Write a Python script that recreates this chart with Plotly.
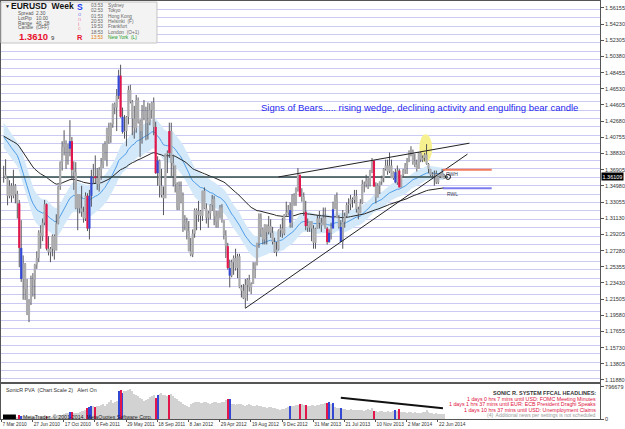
import plotly.graph_objects as go
import pandas as pd

START = "2010-03-07"

# ---- weekly EURUSD bars ----
high_2010 = [1.3737,1.3815,1.3600,1.3565,1.3530,1.3690,1.3520,1.3440,1.3330,1.3090,1.2670,1.2580,1.2390,1.2150,1.2430,1.2460,1.2570,1.2720,1.2970,1.3030,1.3110,1.3330,1.3290,1.2900,1.2770,1.2920,1.2920,1.3160,1.3500,1.3790,1.4030,1.4160,1.4040,1.4000,1.4280,1.4080,1.3790,1.3780,1.3400,1.3400,1.3500,1.3250,1.3420]
low_2010 = [1.3536,1.3580,1.3267,1.3350,1.3300,1.3350,1.3290,1.3110,1.2530,1.2355,1.2143,1.2140,1.1960,1.1876,1.2080,1.2180,1.2150,1.2510,1.2590,1.2750,1.2840,1.3030,1.2730,1.2670,1.2590,1.2660,1.2620,1.2730,1.3040,1.3450,1.3680,1.3860,1.3700,1.3750,1.3850,1.3580,1.3450,1.3220,1.2970,1.3170,1.3130,1.3060,1.3080]
close_2010 = [1.3630,1.3590,1.3375,1.3500,1.3380,1.3500,1.3400,1.3290,1.2760,1.2390,1.2570,1.2270,1.1970,1.2110,1.2390,1.2380,1.2560,1.2640,1.2940,1.2900,1.3060,1.3280,1.2750,1.2710,1.2750,1.2900,1.2730,1.3050,1.3490,1.3780,1.3960,1.4000,1.3950,1.3940,1.4030,1.3690,1.3660,1.3230,1.3400,1.3230,1.3190,1.3110,1.3380]

high_2011 = [1.3410,1.3450,1.3690,1.3760,1.3860, 1.3710,1.3720,1.3830,1.4000, 1.4030,1.4190,1.4250,1.4250, 1.4480,1.4490,1.4650,1.4880, 1.4940,1.4430,1.4340,1.4330,1.4690, 1.4700,1.4520,1.4450,1.4580, 1.4550,1.4290,1.4460,1.4520,1.4440, 1.4490,1.4480,1.4500,1.4550, 1.4260,1.3850,1.3810,1.3700, 1.3490,1.3880,1.3920,1.4250,1.4250, 1.3870,1.3740,1.3540,1.3550, 1.3550,1.3420,1.3150,1.3120]
low_2011 = [1.2960,1.2860,1.3250,1.3520,1.3530, 1.3450,1.3430,1.3570,1.3710, 1.3800,1.3730,1.4000,1.4010, 1.4190,1.4350,1.4150,1.4530, 1.4310,1.4120,1.4060,1.3970,1.4230, 1.4480,1.4100,1.4060,1.4130, 1.4240,1.3840,1.4000,1.4280,1.4040, 1.4050,1.4220,1.4300,1.4100, 1.3640,1.3500,1.3360,1.3360, 1.3150,1.3370,1.3650,1.3830,1.3610, 1.3490,1.3420,1.3210,1.3210, 1.3290,1.2950,1.2970,1.2860]
close_2011 = [1.2990,1.3380,1.3610,1.3610,1.3590, 1.3520,1.3690,1.3750,1.3980, 1.3910,1.4180,1.4090,1.4230, 1.4470,1.4430,1.4570,1.4810, 1.4320,1.4140,1.4150,1.4320,1.4640, 1.4500,1.4300,1.4190,1.4520, 1.4260,1.4150,1.4380,1.4390,1.4270, 1.4250,1.4400,1.4490,1.4200, 1.3650,1.3800,1.3500,1.3390, 1.3350,1.3880,1.3890,1.4150,1.3770, 1.3740,1.3520,1.3240,1.3450, 1.3380,1.3040,1.3060,1.2960]

high_2012 = [1.3080,1.2880,1.2980,1.3230,1.3230, 1.3320,1.3210,1.3440,1.3480, 1.3290,1.3200,1.3280,1.3390, 1.3380,1.3200,1.3200,1.3270,1.3280, 1.3060,1.2970,1.2820,1.2620, 1.2620,1.2670,1.2750,1.2690, 1.2690,1.2320,1.2330,1.2390,1.2400, 1.2440,1.2350,1.2590,1.2590, 1.2820,1.3170,1.3170,1.3000,1.3040, 1.3020,1.3140,1.3100,1.3010, 1.2880,1.2830,1.2980,1.3040, 1.3120,1.3160,1.3310,1.3270,1.3300]
low_2012 = [1.2720,1.2660,1.2650,1.2880,1.2970, 1.3070,1.2970,1.3080,1.3220, 1.3050,1.3000,1.3100,1.3200, 1.3030,1.3000,1.3000,1.3110,1.3060, 1.2860,1.2640,1.2500,1.2290, 1.2410,1.2440,1.2490,1.2400, 1.2280,1.2170,1.2150,1.2042,1.2130, 1.2240,1.2210,1.2330,1.2400, 1.2550,1.2760,1.2890,1.2800,1.2800, 1.2800,1.2920,1.2880,1.2800, 1.2700,1.2660,1.2730,1.2890, 1.2880,1.2910,1.3140,1.3150,1.3000]
close_2012 = [1.2720,1.2680,1.2930,1.3210,1.3150, 1.3200,1.3140,1.3440,1.3230, 1.3120,1.3170,1.3270,1.3340, 1.3140,1.3070,1.3170,1.3240,1.3090, 1.2910,1.2780,1.2520,1.2430, 1.2590,1.2640,1.2520,1.2660, 1.2290,1.2250,1.2160,1.2320,1.2380, 1.2290,1.2330,1.2510,1.2580, 1.2820,1.3120,1.2980,1.2860,1.3040, 1.2950,1.3020,1.2940,1.2830, 1.2710,1.2740,1.2970,1.2990, 1.2930,1.3160,1.3180,1.3210,1.3060]

high_2013 = [1.3400,1.3410,1.3480,1.3710, 1.3630,1.3470,1.3420,1.3320, 1.3110,1.3080,1.3000,1.3030,1.3000, 1.3140,1.3200,1.3120,1.3240, 1.3240,1.3010,1.2980,1.3060, 1.3310,1.3390,1.3420,1.3150,1.3090, 1.3210,1.3180,1.3300,1.3350, 1.3390,1.3360,1.3450,1.3450, 1.3250,1.3340,1.3570,1.3550,1.3630, 1.3590,1.3690,1.3830,1.3800, 1.3540,1.3530,1.3550,1.3620, 1.3710,1.3810,1.3810,1.3895,1.3810]
low_2013 = [1.3000,1.3260,1.3260,1.3430, 1.3370,1.3310,1.3140,1.2970, 1.2950,1.2950,1.2840,1.2750,1.2750, 1.2990,1.2990,1.2950,1.3030, 1.2990,1.2800,1.2820,1.2860, 1.3030,1.3250,1.3130,1.2990,1.2830, 1.2750,1.3000,1.3120,1.3170, 1.3210,1.3240,1.3290,1.3180, 1.3100,1.3180,1.3280,1.3420,1.3480, 1.3460,1.3490,1.3650,1.3490, 1.3290,1.3360,1.3400,1.3510, 1.3540,1.3680,1.3630,1.3650,1.3590]
close_2013 = [1.3380,1.3300,1.3460,1.3630, 1.3370,1.3370,1.3190,1.3020, 1.3000,1.3080,1.2990,1.2820,1.2990, 1.3110,1.3060,1.3030,1.3120, 1.2990,1.2830,1.2940,1.2990, 1.3220,1.3350,1.3120,1.3010,1.2830, 1.3070,1.3140,1.3270,1.3280, 1.3340,1.3330,1.3380,1.3220, 1.3170,1.3290,1.3520,1.3520,1.3560, 1.3550,1.3680,1.3800,1.3490, 1.3360,1.3500,1.3550,1.3590, 1.3700,1.3740,1.3670,1.3740,1.3590]

high_2014 = [1.3670,1.3700,1.3740,1.3700, 1.3620,1.3700,1.3770,1.3830, 1.3920,1.3970,1.3930,1.3880,1.3810, 1.3900,1.3900,1.3860,1.3890, 1.3995,1.3770,1.3700,1.3660, 1.3680,1.3680,1.3620,1.3660,1.3700, 1.3640]
low_2014 = [1.3570,1.3530,1.3510,1.3480, 1.3480,1.3590,1.3640,1.3640, 1.3780,1.3850,1.3750,1.3720,1.3670, 1.3700,1.3780,1.3780,1.3790, 1.3750,1.3650,1.3610,1.3590, 1.3500,1.3520,1.3520,1.3590,1.3590, 1.3580]
close_2014 = [1.3660,1.3540,1.3680,1.3480, 1.3630,1.3690,1.3740,1.3800, 1.3910,1.3910,1.3790,1.3750,1.3700, 1.3890,1.3810,1.3830,1.3870, 1.3760,1.3700,1.3630,1.3640, 1.3640,1.3540,1.3610,1.3650,1.3590, 1.3610]

first_open = 1.3625

# tick volume, thousands
volume_k = [45,50,55,48,52,50,55,60,90,85, 75,70,65,70,60,55,58,62,60,65,
            70,68,80,72,65,60,70,85,95,100, 110,120,150,140,160,180,150,140,150,170,
            190,200,230,260,300,330,320,290,310,330, 340,360,330,380,420,460,390,410,440,700,
            724,650,700,680,720,748,690,620,600,560, 520,480,450,470,500,540,560,580,510,600,
            620,640,600,580,560,600,620,560,520,480, 450,420,380,350,320,300,380,400,420,410,
            430,400,390,410,420,400,380,390,410,420, 400,390,410,430,470,483,480,380,360,350,
            370,380,360,340,330,350,360,340,320,330, 340,320,310,300,290,280,300,290,270,260,
            250,240,230,240,250,265,300,314,330,320, 340,350,360,362,350,340,330,320,350,340,
            330,340,350,370,380,390,400,410,380,385, 300,280,260,270,250,240,230,220,240,230,
            220,210,230,220,210,200,230,240,220,265, 200,190,180,200,190,170,180,190,170,180,
            190,215,200,240,180,170,160,150,170,160, 150,160,150,140,150,160,170,210,160,150,
            140,130,140,135,130,125,120]

red_bars = [8, 22, 35, 43, 47, 60, 78, 85, 115, 152, 155, 166, 190, 203]
blue_bars = [9, 34, 44, 45, 59, 61, 79, 116, 147, 167, 169, 173, 201]

price_ticks = [1.11880,1.13805,1.15730,1.17655,1.19580,1.21505,1.23430,1.25355,1.27280,1.29205,1.31130,1.33055,
               1.34980,1.36905,1.38830,1.40755,1.42680,1.44605,1.46530,1.48455,1.50380,1.52305,1.54230,1.56155]
date_tick_dates = ["2010-03-07","2010-06-27","2010-10-17","2011-02-06","2011-05-29","2011-09-18","2012-01-08",
                   "2012-04-29","2012-08-19","2012-12-09","2013-03-31","2013-07-21","2013-11-10","2014-03-02","2014-06-22"]
date_tick_text = ["7 Mar 2010","27 Jun 2010","17 Oct 2010","6 Feb 2011","29 May 2011","18 Sep 2011","8 Jan 2012",
                  "29 Apr 2012","19 Aug 2012","9 Dec 2012","31 Mar 2013","21 Jul 2013","10 Nov 2013","2 Mar 2014","22 Jun 2014"]

# indicator seeds (values of the averages at the left edge of the chart)
ema34_high_seed, ema34_low_seed, ema34_close_seed, ema89_seed = 1.428, 1.397, 1.411, 1.410

# drawn objects (date, price)
wedge_upper = [("2012-11-18", 1.3604), ("2014-10-05", 1.4006)]
wedge_lower = [("2012-07-22", 1.2042), ("2014-09-28", 1.3876)]
level_line = [("2010-03-07", 1.3605), ("2014-07-20", 1.3605)]
rwh = [("2014-07-02", 1.3690), ("2014-12-24", 1.3690)]
rwl = [("2014-07-02", 1.3470), ("2014-12-24", 1.3470)]
highlight = [("2014-04-08", 1.3781), ("2014-05-24", 1.4113)]
vol_trend = [("2013-06-30", 522000), ("2014-07-02", 265000)]

# ---------------------------------------------------
high = high_2010 + high_2011 + high_2012 + high_2013 + high_2014
low = low_2010 + low_2011 + low_2012 + low_2013 + low_2014
close = close_2010 + close_2011 + close_2012 + close_2013 + close_2014
opn = [first_open] + close[:-1]
n = len(close)
dates = pd.date_range(START, periods=n, freq="7D")
volume = [v * 1000 for v in volume_k]


def ema(vals, period, seed):
    a = 2.0 / (period + 1)
    e, out = seed, []
    for v in vals:
        e = e + a * (v - e)
        out.append(e)
    return out


band_hi = ema(high, 34, ema34_high_seed)
band_lo = ema(low, 34, ema34_low_seed)
mid = ema(close, 34, ema34_close_seed)
slow = ema(close, 89, ema89_seed)

RED, BLUE, GRAY = "#e3164c", "#3349d6", "#ababad"
WICK = "#55555c"

fig = go.Figure()

# dragon band
fig.add_trace(go.Scatter(x=dates, y=band_lo, mode="lines", line=dict(width=0, color="rgba(0,0,0,0)"),
                         hoverinfo="skip", showlegend=False))
fig.add_trace(go.Scatter(x=dates, y=band_hi, mode="lines", line=dict(width=0, color="rgba(0,0,0,0)"),
                         fill="tonexty", fillcolor="#d3e8f9", hoverinfo="skip", showlegend=False))
fig.add_trace(go.Scatter(x=dates, y=mid, mode="lines", line=dict(width=1, color="#4f9ee8"), showlegend=False))
fig.add_trace(go.Scatter(x=dates, y=slow, mode="lines", line=dict(width=1, color="#262626"), showlegend=False))

# level line
fig.add_trace(go.Scatter(x=[p[0] for p in level_line], y=[p[1] for p in level_line], mode="lines",
                         line=dict(width=1.5, color="#2f4a4a"), showlegend=False))

# wicks
wx, wy = [], []
for i in range(n):
    wx += [dates[i], dates[i], None]
    wy += [low[i], high[i], None]
fig.add_trace(go.Scatter(x=wx, y=wy, mode="lines", line=dict(width=1, color=WICK), showlegend=False))

# bodies
groups = {GRAY: ([], []), RED: ([], []), BLUE: ([], [])}
for i in range(n):
    c = RED if i in red_bars else BLUE if i in blue_bars else GRAY
    o, cl = opn[i], close[i]
    if abs(o - cl) < 0.0006:
        o, cl = o + 0.0003, cl - 0.0003
    groups[c][0].extend([dates[i], dates[i], None])
    groups[c][1].extend([o, cl, None])
for c, (gx, gy) in groups.items():
    fig.add_trace(go.Scatter(x=gx, y=gy, mode="lines", line=dict(width=2.2, color=c), showlegend=False))

# current price marker
fig.add_trace(go.Scatter(x=[level_line[1][0]], y=[level_line[1][1]], mode="markers",
                         marker=dict(symbol="circle-open", size=5, color="#111", line=dict(width=1)),
                         showlegend=False))

# volume
vcol = [RED if i in red_bars else BLUE if i in blue_bars else "#d2d2d2" for i in range(n)]
fig.add_trace(go.Bar(x=dates, y=volume, marker=dict(color=vcol, line=dict(width=0)),
                     width=0.55 * 7 * 86400000, xaxis="x2", yaxis="y2", showlegend=False))

x0 = pd.Timestamp(START) - pd.Timedelta(days=9.6)
x1 = pd.Timestamp(START) + pd.Timedelta(days=7 * 306)

FONT = "Liberation Sans, Arial, sans-serif"
PW, PT, PB = 603, 1, 419


def xp(px):
    return px / PW


def yp(py):
    return (PB - py) / (PB - PT)


shapes = [
    dict(type="line", xref="x", yref="y", x0=wedge_upper[0][0], y0=wedge_upper[0][1],
         x1=wedge_upper[1][0], y1=wedge_upper[1][1], line=dict(color="#222", width=1)),
    dict(type="line", xref="x", yref="y", x0=wedge_lower[0][0], y0=wedge_lower[0][1],
         x1=wedge_lower[1][0], y1=wedge_lower[1][1], line=dict(color="#222", width=1)),
    dict(type="line", xref="x", yref="y", x0=rwh[0][0], y0=rwh[0][1], x1=rwh[1][0], y1=rwh[1][1],
         line=dict(color="#f47a5c", width=2)),
    dict(type="line", xref="x", yref="y", x0=rwl[0][0], y0=rwl[0][1], x1=rwl[1][0], y1=rwl[1][1],
         line=dict(color="#7c7cef", width=2)),
    dict(type="circle", xref="x", yref="y", x0=highlight[0][0], y0=highlight[0][1],
         x1=highlight[1][0], y1=highlight[1][1], fillcolor="#f6f18e", line=dict(width=0), layer="between"),
    dict(type="line", xref="x2", yref="y2", x0=vol_trend[0][0], y0=vol_trend[0][1],
         x1=vol_trend[1][0], y1=vol_trend[1][1], line=dict(color="#111", width=2)),
    # info box
    dict(type="rect", xref="paper", yref="paper", x0=xp(0), x1=xp(157), y0=yp(43), y1=yp(2),
         fillcolor="#f3f3f3", line=dict(color="#c4c4c4", width=1), layer="above"),
    # MetaTrader badge
    dict(type="rect", xref="paper", yref="paper", x0=xp(2), x1=xp(15), y0=yp(419), y1=yp(414.5),
         fillcolor="#000", line=dict(width=0), layer="above"),
]

anns = []


def ann(x, y, text, size=5.5, color="#333", anchor="left", bold=False, family=FONT):
    if bold:
        text = "<b>" + text + "</b>"
    anns.append(dict(xref="paper", yref="paper", x=xp(x), y=yp(y), text=text, showarrow=False,
                     xanchor=anchor, yanchor="middle", font=dict(size=size, color=color, family=family)))


ann(260, 107, "Signs of Bears..... rising wedge, declining activity and engulfing bear candle", 9.5, "#1f1ff0")
ann(446, 174, "RWH", 5, "#3a3a5a")
ann(447, 193.5, "RWL", 5, "#3a3a5a")

# info box contents
ann(2.5, 6, "▼", 5, "#111")
ann(8, 6, "EURUSD  Week", 8.5, "#111", bold=True)
ann(74, 6.5, "S", 8.5, "#1e3cf5", bold=True)
for ch, yy, col in [("o", 14, "#8c8cf0"), ("n", 18.8, "#f08cb4"), ("i", 23.6, "#f06c8c"), ("c", 28.4, "#f09aa8")]:
    ann(76, yy, ch, 5.5, col)
ann(74.5, 37.5, "R", 7.5, "#e8102c", bold=True)
for lab, val, yy in [("Spread", "2.30", 13), ("LotPip", "10.00", 18), ("Range", "40, 28", 23), ("Candle", "(OFF)", 28)]:
    ann(15, yy, lab, 4.8, "#555")
    ann(33, yy, val, 4.8, "#555")
ann(16, 36.5, "1.3610", 9.5, "#e8102c", bold=True)
ann(48.5, 37.5, "9", 6, "#333")
zones = [("03:53", "Sydney"), ("02:53", "Tokyo"), ("01:53", "Hong Kong"), ("20:53", "Helsinki  (F)"),
         ("19:53", "Frankfurt"), ("18:53", "London  (O+1)"), ("13:53", "New York  (L)")]
for k, (t, z) in enumerate(zones):
    yy = 5.3 + k * 5.35
    last = k == len(zones) - 1
    ann(89, yy, t, 4.8, "#e07a00" if last else "#666")
    ann(106, yy, z, 4.8, "#1a9a1a" if last else "#666")

# volume panel texts
ann(3, 389.5, "SonicR PVA  (Chart Scale 2)   Alert On", 5.3, "#333")
ann(20, 416.5, "MetaTrader, © 2001-2014, MetaQuotes Software Corp.", 5.3, "#222")
ann(601, 393.3, "SONIC R. SYSTEM FFCAL HEADLINES:", 5.5, "#333", anchor="right", bold=True)
ann(601, 398.9, "1 days 0 hrs 7 mins until USD: FOMC Meeting Minutes", 5.3, "#e0103c", anchor="right")
ann(601, 404.4, "1 days 1 hrs 37 mins until EUR: ECB President Draghi Speaks", 5.3, "#e0103c", anchor="right")
ann(601, 409.9, "1 days 10 hrs 37 mins until USD: Unemployment Claims", 5.3, "#e0103c", anchor="right")
ann(601, 415.3, "(4)  Additional news per settings is not scheduled", 5.0, "#999", anchor="right")

# current price box
anns.append(dict(xref="paper", yref="y", x=1.0, y=close[-1], xanchor="left", yanchor="middle", xshift=1,
                 text="1.36109", showarrow=False, bgcolor="#000", borderpad=0.5,
                 font=dict(size=5.5, color="#fff", family=FONT)))

fig.update_layout(
    width=625, height=429,
    margin=dict(l=0, r=22, t=PT, b=429 - PB),
    paper_bgcolor="#fff", plot_bgcolor="#fff",
    showlegend=False, bargap=0,
    font=dict(family=FONT, size=5.5, color="#333"),
    shapes=shapes, annotations=anns,
    xaxis=dict(range=[x0, x1], domain=[0, 1], anchor="y", showticklabels=False, showgrid=False,
               showline=True, mirror=True, linecolor="#555", linewidth=1, zeroline=False, ticks=""),
    yaxis=dict(domain=[yp(382), 1], range=[1.1164, 1.5698], side="right", tickmode="array",
               tickvals=price_ticks, ticktext=[f"{v:.5f}" for v in price_ticks],
               ticks="outside", ticklen=3, tickcolor="#555", showgrid=False, zeroline=False,
               showline=True, mirror=True, linecolor="#555", linewidth=1,
               tickfont=dict(size=5.5, color="#333"),
               minor=dict(tick0=0, dtick=0.01, showgrid=True, gridcolor="#cacaf2", gridwidth=1, ticks="")),
    xaxis2=dict(range=[x0, x1], domain=[0, 1], anchor="y2", matches="x", showgrid=False,
                showline=True, mirror=True, linecolor="#555", linewidth=1, zeroline=False,
                tickmode="array", tickvals=pd.to_datetime(date_tick_dates) - pd.Timedelta(days=8),
                ticktext=date_tick_text, ticks="outside", ticklen=2, tickcolor="#555", tickangle=0,
                ticklabelposition="outside right", tickfont=dict(size=4.8, color="#333")),
    yaxis2=dict(domain=[0, yp(384)], range=[0, 860000], side="right", tickmode="array",
                tickvals=[0, 796679], ticktext=["0", "796679"], ticks="outside", ticklen=3,
                tickcolor="#555", showgrid=False, zeroline=False, showline=True, mirror=True,
                linecolor="#555", linewidth=1, tickfont=dict(size=5.5, color="#333")),
)

fig.write_html("out.html")
